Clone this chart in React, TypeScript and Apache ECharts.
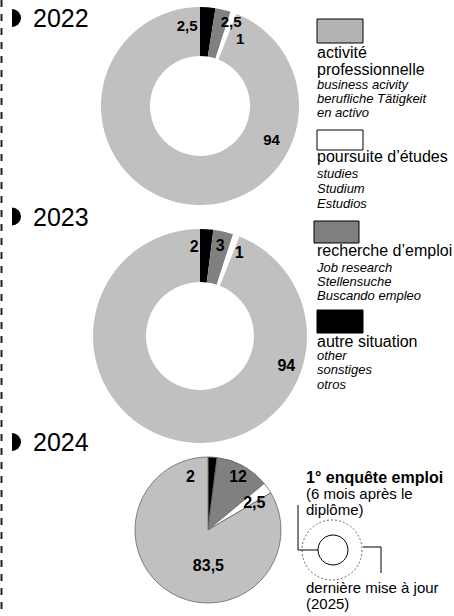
import React, { useEffect, useRef } from "react";
import * as echarts from "echarts";

// ---- data ----
const categories = ["autre situation", "recherche d’emploi", "poursuite d’études", "activité professionnelle"];
const years = ["2022", "2023", "2024"];
const values2022 = [2.5, 2.5, 1, 94];
const values2023 = [2, 3, 1, 94];
const values2024 = [2, 12, 2.5, 83.5];
const sliceColors = ["#000000", "#808080", "#ffffff", "#c0c0c0"];

const legendMain = [
  ["activité", "professionnelle"],
  ["poursuite d’études"],
  ["recherche d’emploi"],
  ["autre situation"],
];
const legendSub = [
  ["business acivity", "berufliche Tätigkeit", "en activo"],
  ["studies", "Studium", "Estudios"],
  ["Job research", "Stellensuche", "Buscando empleo"],
  ["other", "sonstiges", "otros"],
];
const noteTop = ["1° enquête emploi", "(6 mois après le", "diplôme)"];
const noteBottom = ["dernière mise à jour", "(2025)"];

// ---- layout (label nudges relative to library positions) ----
const off2022 = [[-19, -3], [13, -9], [14, 5], [86, -43]];
const off2023 = [[-11, -6], [2, -9], [11, -5], [102, -53]];
const off2024 = [[-20, -14], [11, -19], [14, -5], [20, 1]];

const FONT = "'Liberation Sans', Arial, Helvetica, sans-serif";

function fmt(v: number) {
  return String(v).replace(".", ",");
}

function pieSeries(values: number[], center: [number, number], radius: [number, number], offs: number[][], bordered: boolean, fontSize: number) {
  return {
    type: "pie",
    silent: true,
    center,
    radius,
    startAngle: 90,
    clockwise: true,
    avoidLabelOverlap: false,
    label: {
      show: true,
      position: "inside",
      formatter: (p: any) => fmt(p.value),
      color: "#000",
      fontWeight: "bold",
      fontSize,
      fontFamily: FONT,
    },
    labelLine: { show: false },
    labelLayout: (p: any) => ({ dx: offs[p.dataIndex][0], dy: offs[p.dataIndex][1] }),
    itemStyle: bordered ? { borderColor: "#666", borderWidth: 0.8 } : { borderWidth: 0 },
    emphasis: { disabled: true },
    data: values.map((v, i) => ({ name: categories[i], value: v, itemStyle: { color: sliceColors[i] } })),
  };
}

export default function App() {
  const ref = useRef<HTMLDivElement>(null);
  useEffect(() => {
    if (!ref.current) return;
    const chart = echarts.init(ref.current, undefined, { renderer: "svg" });

    const graphics: any[] = [];
    // dashed left border
    graphics.push({
      type: "line",
      shape: { x1: 1.5, y1: 0, x2: 1.5, y2: 616 },
      style: { stroke: "#222", lineWidth: 2, lineDash: [7, 7] },
    });
    // cut title
    graphics.push({
      type: "text",
      x: 391,
      y: -2,
      style: { text: "(%)", font: `bold 24px ${FONT}`, fill: "#000", textAlign: "center", textVerticalAlign: "bottom" },
    });
    // year markers and labels
    const yearY = [18, 216.5, 442];
    years.forEach((y, i) => {
      graphics.push({
        type: "sector",
        shape: { cx: 12, cy: yearY[i], r: 9, startAngle: -Math.PI / 2, endAngle: Math.PI / 2, clockwise: true },
        style: { fill: "#000" },
      });
      graphics.push({
        type: "text",
        x: 33,
        y: yearY[i],
        style: { text: y, font: `25px ${FONT}`, fill: "#000", textVerticalAlign: "middle" },
      });
    });
    // legend boxes
    const boxes = [
      { x: 317, y: 19, w: 46, h: 24, fill: "#b3b3b3" },
      { x: 317, y: 130, w: 46, h: 20, fill: "#ffffff" },
      { x: 314, y: 221, w: 45, h: 22, fill: "#7f7f7f" },
      { x: 317, y: 310, w: 46, h: 23, fill: "#000000" },
    ];
    const mainY = [[52.4, 69.5], [156.4], [250.4], [341]];
    const subY = [[84, 98, 112], [173.5, 188.5, 203.5], [267, 281.5, 295.5], [355.5, 369.5, 384]];
    boxes.forEach((b, i) => {
      graphics.push({
        type: "rect",
        shape: { x: b.x, y: b.y, width: b.w, height: b.h },
        style: { fill: b.fill, stroke: "#000", lineWidth: 1 },
      });
      legendMain[i].forEach((t, j) => {
        graphics.push({
          type: "text",
          x: 317,
          y: mainY[i][j],
          style: { text: t, font: `16px ${FONT}`, fill: "#000", textVerticalAlign: "middle" },
        });
      });
      legendSub[i].forEach((t, j) => {
        graphics.push({
          type: "text",
          x: 317,
          y: subY[i][j],
          style: { text: t, font: `italic 13px ${FONT}`, fill: "#000", textVerticalAlign: "middle" },
        });
      });
    });
    // note top
    const noteTopY = [477.4, 493.5, 509.5];
    noteTop.forEach((t, j) => {
      graphics.push({
        type: "text",
        x: 306,
        y: noteTopY[j],
        style: { text: t, font: `${j === 0 ? "bold 16px" : "15px"} ${FONT}`, fill: "#000", textVerticalAlign: "middle" },
      });
    });
    const noteBottomY = [587.5, 603];
    noteBottom.forEach((t, j) => {
      graphics.push({
        type: "text",
        x: 306,
        y: noteBottomY[j],
        style: { text: t, font: `15px ${FONT}`, fill: "#000", textVerticalAlign: "middle" },
      });
    });
    // small diagram
    graphics.push({
      type: "circle",
      shape: { cx: 332, cy: 550, r: 30 },
      style: { fill: "none", stroke: "#444", lineWidth: 0.8, lineDash: [2, 2] },
    });
    graphics.push({
      type: "circle",
      shape: { cx: 333, cy: 550, r: 15 },
      style: { fill: "#fff", stroke: "#000", lineWidth: 1 },
    });
    graphics.push({
      type: "polyline",
      shape: { points: [[298, 505], [298, 550], [318, 550]] },
      style: { fill: "none", stroke: "#000", lineWidth: 1 },
    });
    graphics.push({
      type: "polyline",
      shape: { points: [[363, 547], [381, 547], [381, 573]] },
      style: { fill: "none", stroke: "#000", lineWidth: 1 },
    });

    chart.setOption({
      animation: false,
      backgroundColor: "#ffffff",
      textStyle: { fontFamily: FONT },
      series: [
        pieSeries(values2022, [200, 106], [50, 99], off2022, false, 15),
        pieSeries(values2023, [200, 336], [54, 107], off2023, false, 16),
        pieSeries(values2024, [208, 530], [0, 73], off2024, true, 16),
      ],
      graphic: { elements: graphics },
    });
    return () => chart.dispose();
  }, []);
  return <div ref={ref} style={{ position: "fixed", left: 0, top: 0, width: 454, height: 616 }} />;
}
